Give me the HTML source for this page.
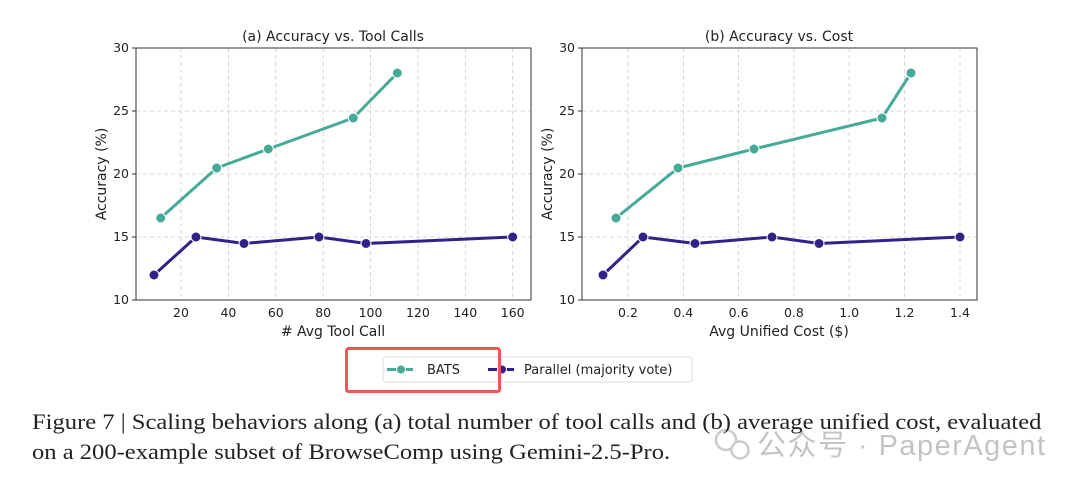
<!DOCTYPE html>
<html><head><meta charset="utf-8"><style>
body{margin:0;background:#fff;width:1080px;height:487px;overflow:hidden;position:relative}
svg{position:absolute;left:0;top:0}
.cap{position:absolute;left:32px;font-family:"Liberation Serif",serif;font-size:22px;color:#222;white-space:nowrap;transform-origin:0 0;transform:scaleX(1.117)}
</style></head><body>
<svg width="1080" height="487" font-family="DejaVu Sans, Liberation Sans, sans-serif" fill="#222">
<g stroke="#ccc" stroke-dasharray="4,3" stroke-width="0.8">
<line x1="181" y1="48" x2="181" y2="300"/><line x1="228.4" y1="48" x2="228.4" y2="300"/><line x1="275.8" y1="48" x2="275.8" y2="300"/><line x1="323.2" y1="48" x2="323.2" y2="300"/><line x1="370.5" y1="48" x2="370.5" y2="300"/><line x1="417.9" y1="48" x2="417.9" y2="300"/><line x1="465.3" y1="48" x2="465.3" y2="300"/><line x1="512.7" y1="48" x2="512.7" y2="300"/>
<line x1="136" y1="111" x2="531" y2="111"/><line x1="136" y1="174" x2="531" y2="174"/><line x1="136" y1="237" x2="531" y2="237"/>
<line x1="582" y1="111" x2="977" y2="111"/><line x1="582" y1="174" x2="977" y2="174"/><line x1="582" y1="237" x2="977" y2="237"/>
<line x1="628" y1="48" x2="628" y2="300"/><line x1="683.3" y1="48" x2="683.3" y2="300"/><line x1="738.6" y1="48" x2="738.6" y2="300"/><line x1="793.9" y1="48" x2="793.9" y2="300"/><line x1="849.2" y1="48" x2="849.2" y2="300"/><line x1="904.5" y1="48" x2="904.5" y2="300"/><line x1="960" y1="48" x2="960" y2="300"/>
</g>
<rect x="136" y="48" width="395" height="252" fill="none" stroke="#333" stroke-width="1"/>
<rect x="582" y="48" width="395" height="252" fill="none" stroke="#333" stroke-width="1"/>
<g stroke="#333"><line x1="132" y1="48" x2="136" y2="48"/><line x1="132" y1="111" x2="136" y2="111"/><line x1="132" y1="174" x2="136" y2="174"/><line x1="132" y1="237" x2="136" y2="237"/><line x1="132" y1="300" x2="136" y2="300"/>
<line x1="578" y1="48" x2="582" y2="48"/><line x1="578" y1="111" x2="582" y2="111"/><line x1="578" y1="174" x2="582" y2="174"/><line x1="578" y1="237" x2="582" y2="237"/><line x1="578" y1="300" x2="582" y2="300"/></g>
<g font-size="12.5" text-anchor="end">
<text x="129" y="52">30</text><text x="129" y="115">25</text><text x="129" y="178">20</text><text x="129" y="241">15</text><text x="129" y="304">10</text>
<text x="575" y="52">30</text><text x="575" y="115">25</text><text x="575" y="178">20</text><text x="575" y="241">15</text><text x="575" y="304">10</text>
</g>
<g font-size="12.5" text-anchor="middle">
<text x="181" y="317">20</text><text x="228.4" y="317">40</text><text x="275.8" y="317">60</text><text x="323.2" y="317">80</text><text x="370.5" y="317">100</text><text x="417.9" y="317">120</text><text x="465.3" y="317">140</text><text x="512.7" y="317">160</text>
<text x="628" y="317">0.2</text><text x="683.3" y="317">0.4</text><text x="738.6" y="317">0.6</text><text x="793.9" y="317">0.8</text><text x="849.2" y="317">1.0</text><text x="904.5" y="317">1.2</text><text x="960" y="317">1.4</text>
</g>
<g font-size="14" text-anchor="middle">
<text x="333" y="41">(a) Accuracy vs. Tool Calls</text><text x="779" y="41">(b) Accuracy vs. Cost</text>
<text x="333" y="336">#&#160;Avg Tool Call</text><text x="779" y="336">Avg Unified Cost ($)</text>
<text transform="translate(106,174) rotate(-90)">Accuracy (%)</text>
<text transform="translate(552,174) rotate(-90)">Accuracy (%)</text>
</g>
<polyline fill="none" stroke="#45ab98" stroke-width="3" points="160.7,218 216.7,168 268.3,149 353.3,118 397.3,73"/>
<polyline fill="none" stroke="#31228a" stroke-width="3" points="154,275 196,237 244,243.5 319,237 366,243.5 512.7,237"/>
<g fill="#45ab98" stroke="#fff" stroke-width="1"><circle cx="160.7" cy="218" r="5"/><circle cx="216.7" cy="168" r="5"/><circle cx="268.3" cy="149" r="5"/><circle cx="353.3" cy="118" r="5"/><circle cx="397.3" cy="73" r="5"/></g>
<g fill="#31228a" stroke="#fff" stroke-width="1"><circle cx="154" cy="275" r="5"/><circle cx="196" cy="237" r="5"/><circle cx="244" cy="243.5" r="5"/><circle cx="319" cy="237" r="5"/><circle cx="366" cy="243.5" r="5"/><circle cx="512.7" cy="237" r="5"/></g>
<polyline fill="none" stroke="#45ab98" stroke-width="3" points="616,218 678,168 754,149 882,118 911,73"/>
<polyline fill="none" stroke="#31228a" stroke-width="3" points="603,275 643,237 695,243.5 772,237 819,243.5 960,237"/>
<g fill="#45ab98" stroke="#fff" stroke-width="1"><circle cx="616" cy="218" r="5"/><circle cx="678" cy="168" r="5"/><circle cx="754" cy="149" r="5"/><circle cx="882" cy="118" r="5"/><circle cx="911" cy="73" r="5"/></g>
<g fill="#31228a" stroke="#fff" stroke-width="1"><circle cx="603" cy="275" r="5"/><circle cx="643" cy="237" r="5"/><circle cx="695" cy="243.5" r="5"/><circle cx="772" cy="237" r="5"/><circle cx="819" cy="243.5" r="5"/><circle cx="960" cy="237" r="5"/></g>
<rect x="383" y="357" width="309" height="25" rx="3" fill="#fff" stroke="#ddd"/>
<line x1="387" y1="369.5" x2="413" y2="369.5" stroke="#45ab98" stroke-width="3"/><circle cx="401" cy="369.5" r="4.5" fill="#45ab98" stroke="#fff"/>
<text x="427" y="374" font-size="13">BATS</text>
<line x1="488" y1="369.5" x2="514" y2="369.5" stroke="#31228a" stroke-width="3"/><circle cx="502" cy="369.5" r="4.5" fill="#31228a" stroke="#fff"/>
<text x="524" y="374" font-size="13">Parallel (majority vote)</text>
<rect x="346.5" y="348.5" width="153" height="43" rx="2" fill="none" stroke="#f05656" stroke-width="3"/>
<text x="757" y="455" font-size="29" fill="#c4c4c4" font-family="Liberation Sans, Noto Sans CJK SC, sans-serif" textLength="288">公众号 · PaperAgent</text>
<circle cx="726" cy="440" r="10" fill="none" stroke="#ccc" stroke-width="2.5"/><circle cx="740" cy="450" r="8.5" fill="#fff" stroke="#ccc" stroke-width="2.5"/>
</svg>
<div class="cap" style="top:409px">Figure 7 | Scaling behaviors along (a) total number of tool calls and (b) average unified cost, evaluated</div>
<div class="cap" style="top:439px">on a 200-example subset of BrowseComp using Gemini-2.5-Pro.</div>
</body></html>
